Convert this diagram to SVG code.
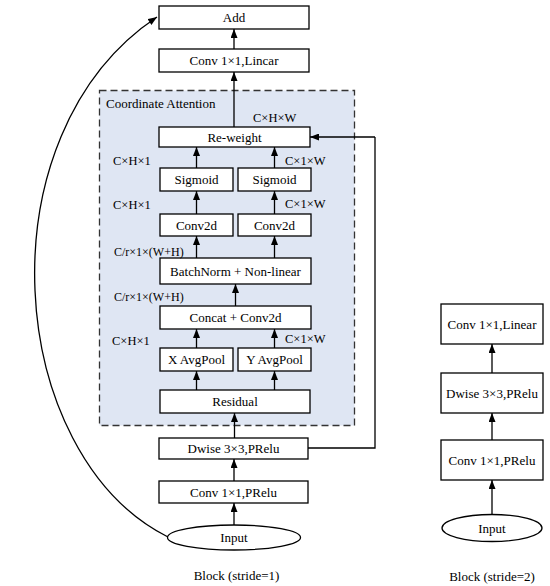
<svg xmlns="http://www.w3.org/2000/svg" width="550" height="586" viewBox="0 0 550 586">
<defs>
<marker id="ah2" viewBox="0 0 10 10" refX="10" refY="5" markerWidth="9" markerHeight="7" markerUnits="userSpaceOnUse" orient="auto" preserveAspectRatio="none">
<path d="M0,0 L10,5 L0,10 z" fill="#000"/>
</marker>
<style>
.b{fill:#fff;stroke:#000;stroke-width:1.3}
.t{font-family:"Liberation Serif","Times New Roman",serif;font-size:13px;fill:#000;text-anchor:middle;dominant-baseline:central}
.d{font-family:"Liberation Serif","Times New Roman",serif;font-size:12.5px;fill:#000}
.r{font-size:12px}
.c{fill:none;stroke:#000;stroke-width:1.3}
.a{marker-end:url(#ah2)}
</style>
</defs>
<rect x="99.5" y="90.5" width="255" height="335" fill="#dfe6f3" stroke="#333" stroke-width="1.3" stroke-dasharray="7,4"/>
<text class="d" x="106" y="107.5" style="font-size:13px">Coordinate Attention</text>
<g id="connectors">
<path class="c a" d="M234,127 V72"/>
<path class="c a" d="M234,49 V29"/>
<path class="c a" d="M196.5,168 V147"/>
<path class="c a" d="M274.5,168 V147"/>
<path class="c a" d="M196.5,214 V191"/>
<path class="c a" d="M274.5,214 V191"/>
<path class="c a" d="M196.5,258 V236"/>
<path class="c a" d="M274.5,258 V236"/>
<path class="c a" d="M235.5,306 V284"/>
<path class="c a" d="M196.5,348 V329"/>
<path class="c a" d="M274.5,348 V329"/>
<path class="c a" d="M196.5,390 V371"/>
<path class="c a" d="M274.5,390 V371"/>
<path class="c a" d="M234.5,438 V413"/>
<path class="c a" d="M234,481 V459"/>
<path class="c a" d="M234,525 V503"/>
<path class="c" d="M308,448 H375 V137" />
<path class="c a" d="M375,137 H310"/>
<path class="c" d="M168,537 C5,455 -20,135 157,17" marker-end="url(#ah2)"/>
<path class="c a" d="M492,514 V480"/>
<path class="c a" d="M492,440 V413"/>
<path class="c a" d="M492,373 V344"/>
</g>
<g id="add"><rect class="b" x="159" y="6" width="150" height="23"/><text class="t" x="234" y="17.5">Add</text></g>
<g id="convlinear"><rect class="b" x="159" y="49" width="150" height="23"/><text class="t" x="234" y="60.5">Conv 1×1,Lincar</text></g>
<g id="reweight"><rect class="b" x="159" y="127" width="151" height="20"/><text class="t" x="234.5" y="137">Re-weight</text></g>
<g id="sigmoid1"><rect class="b" x="160" y="168" width="73" height="23"/><text class="t" x="196.5" y="179.5">Sigmoid</text></g>
<g id="sigmoid2"><rect class="b" x="238" y="168" width="73" height="23"/><text class="t" x="274.5" y="179.5">Sigmoid</text></g>
<g id="conv2d1"><rect class="b" x="160" y="214" width="73" height="22"/><text class="t" x="196.5" y="225">Conv2d</text></g>
<g id="conv2d2"><rect class="b" x="238" y="214" width="73" height="22"/><text class="t" x="274.5" y="225">Conv2d</text></g>
<g id="batchnorm"><rect class="b" x="160" y="258" width="151" height="26"/><text class="t" x="235.5" y="271">BatchNorm + Non-linear</text></g>
<g id="concat"><rect class="b" x="160" y="306" width="151" height="23"/><text class="t" x="235.5" y="317.5">Concat + Conv2d</text></g>
<g id="xavg"><rect class="b" x="160" y="348" width="73" height="23"/><text class="t" x="196.5" y="359.5">X AvgPool</text></g>
<g id="yavg"><rect class="b" x="238" y="348" width="73" height="23"/><text class="t" x="274.5" y="359.5">Y AvgPool</text></g>
<g id="residual"><rect class="b" x="160" y="390" width="150" height="23"/><text class="t" x="235" y="401.5">Residual</text></g>
<g id="dwise"><rect class="b" x="159" y="438" width="149" height="21"/><text class="t" x="233.5" y="448.5">Dwise 3×3,PRelu</text></g>
<g id="convprelu"><rect class="b" x="159" y="481" width="149" height="22"/><text class="t" x="233.5" y="492">Conv 1×1,PRelu</text></g>
<g id="input"><ellipse class="b" cx="234" cy="537.5" rx="66.5" ry="12.5"/><text class="t" x="234" y="537.5">Input</text></g>
<g id="labels">
<text class="d" x="253" y="121.5">C×H×W</text>
<text class="d" x="113" y="164.5">C×H×1</text>
<text class="d" x="285" y="164.5">C×1×W</text>
<text class="d" x="113" y="208.5">C×H×1</text>
<text class="d" x="285" y="207.5">C×1×W</text>
<text class="d r" x="114" y="256">C/r×1×(W+H)</text>
<text class="d r" x="114" y="301">C/r×1×(W+H)</text>
<text class="d" x="112" y="344.5">C×H×1</text>
<text class="d" x="285" y="342.5">C×1×W</text>
<text class="t" x="236.5" y="575">Block (stride=1)</text>
<text class="t" x="492" y="576.5">Block (stride=2)</text>
</g>
<g id="r_convlinear"><rect class="b" x="441" y="304" width="102" height="40"/><text class="t" x="492" y="324">Conv 1×1,Linear</text></g>
<g id="r_dwise"><rect class="b" x="441" y="373" width="102" height="40"/><text class="t" x="492" y="393">Dwise 3×3,PRelu</text></g>
<g id="r_convprelu"><rect class="b" x="441" y="440" width="102" height="40"/><text class="t" x="492" y="460">Conv 1×1,PRelu</text></g>
<g id="r_input"><ellipse class="b" cx="492" cy="528" rx="50" ry="13.5"/><text class="t" x="492" y="528">Input</text></g>
</svg>
